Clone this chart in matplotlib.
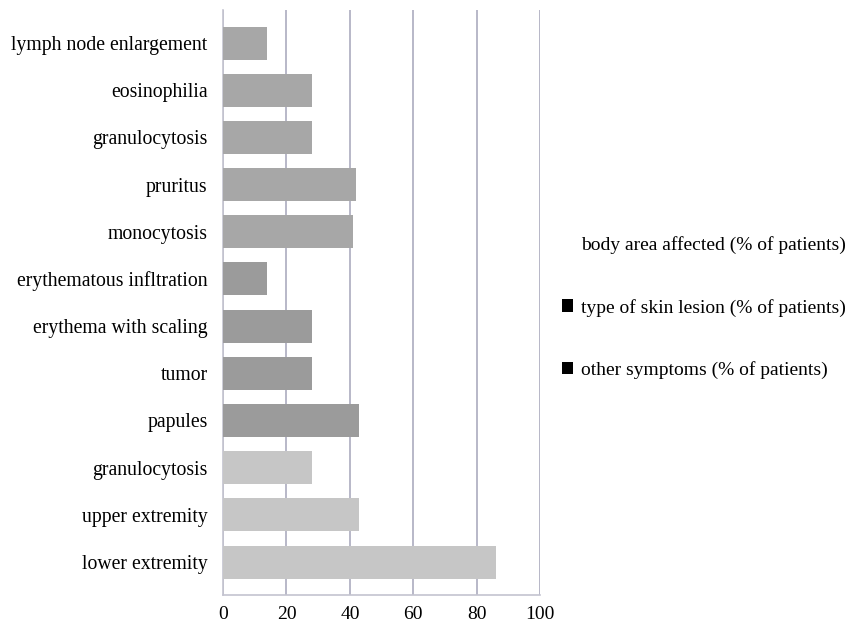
import matplotlib
matplotlib.use("Agg")
import matplotlib.pyplot as plt
from matplotlib.patches import Patch
import numpy as np

plt.rcParams["font.family"] = ["Liberation Serif", "DejaVu Serif"]

# bottom to top, grouped by series
body_labels = ["lower extremity", "upper extremity", "granulocytosis"]
body_values = [86, 43, 28]

lesion_labels = ["papules", "tumor", "erythema with scaling", "erythematous infltration"]
lesion_values = [43, 28, 28, 14]

other_labels = ["monocytosis", "pruritus", "granulocytosis", "eosinophilia",
                "lymph node enlargement"]
other_values = [41, 42, 28, 28, 14]

series_names = ["body area affected (% of patients)",
                "type of skin lesion (% of patients)",
                "other symptoms (% of patients)"]
x_ticks = [0, 20, 40, 60, 80, 100]

fig = plt.figure(figsize=(8.48, 6.29), dpi=100)
ax = fig.add_axes([0.263, 0.054, 0.374, 0.930])

groups = [(body_labels, body_values, "#c6c6c6"),
          (lesion_labels, lesion_values, "#9b9b9b"),
          (other_labels, other_values, "#a7a7a7")]

labels = []
pos = 0
for lab, val, col in groups:
    y = np.arange(pos, pos + len(val))
    ax.barh(y, val, height=0.7, color=col, zorder=3)
    labels += lab
    pos += len(val)

ax.set_yticks(np.arange(len(labels)))
ax.set_yticklabels(labels, fontsize=14.2)
ax.set_ylim(-0.7, len(labels) - 0.3)
ax.set_xlim(0, 100)
ax.set_xticks(x_ticks)
ax.set_xticklabels([str(t) for t in x_ticks], fontsize=14)
ax.tick_params(axis="y", length=0, pad=11)
ax.tick_params(axis="x", length=0, pad=8)

ax.grid(axis="x", color="#b8b8c8", linewidth=1.4, zorder=0)
ax.axvline(100, color="#b8b8c8", linewidth=1.4, zorder=0)
ax.spines["top"].set_visible(False)
ax.spines["right"].set_visible(False)
for s in ["left", "bottom"]:
    ax.spines[s].set_color("#c4c4d0")
    ax.spines[s].set_linewidth(1.2)

handles = [Patch(facecolor="white", edgecolor="none"),
           Patch(facecolor="black"),
           Patch(facecolor="black")]
fig.legend(handles, series_names, loc="center left",
           bbox_to_anchor=(0.663, 0.511), frameon=False, fontsize=14,
           handlelength=0.55, handleheight=0.6, handletextpad=0.4,
           labelspacing=2.3, borderpad=0, borderaxespad=0)

fig.savefig("out.png", dpi=100)
